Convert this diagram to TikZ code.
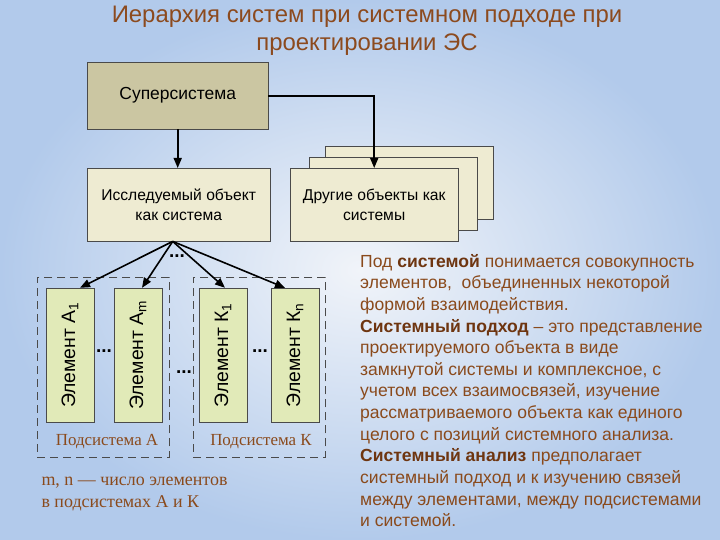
\documentclass[tikz,border=0pt]{standalone}
\usepackage{fontspec}
\setmainfont{Liberation Sans}
\newfontfamily\serifcyr{Liberation Serif}
\usepackage{xcolor}
\definecolor{cBg}{HTML}{B2CAEB}
\definecolor{cBgLight}{HTML}{F1F4F9}
\definecolor{cTitle}{HTML}{8C4A1E}
\definecolor{cText}{HTML}{8A4A1C}
\definecolor{cBold}{HTML}{6E3510}
\definecolor{cEdge}{HTML}{4A4A4A}
\definecolor{cSuper}{HTML}{CBC6A2}
\definecolor{cObj}{HTML}{EEEBD2}
\definecolor{cElem}{HTML}{E1EAB8}
\usetikzlibrary{arrows.meta,calc}
\tikzset{
  node-super/.style={draw=cEdge,fill=cSuper,anchor=north west,
    minimum width=181bp,minimum height=67bp,
    font=\fontsize{17.5}{20}\selectfont},
  node-box/.style={draw=cEdge,fill=cObj,anchor=north west,
    minimum width=168bp,minimum height=73bp,align=center,
    font=\fontsize{15.7}{20.5}\selectfont},
  node-elem/.style={draw=cEdge,fill=cElem,rotate=90,
    minimum width=134bp,minimum height=48bp,
    font=\fontsize{19.5}{20}\selectfont},
  sub-box/.style={draw=cEdge,thick,dash pattern=on 8bp off 5bp,
    anchor=north west,minimum width=132bp,minimum height=180bp},
  sub-label/.style={text=cText,font=\serifcyr\fontsize{17}{22}\selectfont},
  dots/.style={font=\bfseries\fontsize{19}{19}\selectfont},
  arrow/.style={-{Triangle[length=10bp,width=8bp]},line width=1.6bp},
}
\newcommand{\termbf}[1]{{\color{cBold}\bfseries #1}}

\begin{document}
\begin{tikzpicture}[x=1bp,y=-1bp]
  % background
  \useasboundingbox (0,0) rectangle (720,540);
  \shade[inner color=cBgLight,outer color=cBg] (0,0) rectangle (720,540);

  \node[text=cTitle,align=center,font=\fontsize{24}{28}\selectfont] (title) at (367,31)
    {Иерархия систем при системном подходе при\\проектировании ЭС};

  % upper level
  \node[node-super] (super) at (87,62) {Суперсистема};
  \node[node-box,minimum width=183bp] (obj) at (87,168) {Исследуемый объект\\как система};
  \node[node-box] (other3) at (325,146) {};
  \node[node-box] (other2) at (309,157) {};
  \node[node-box] (other1) at (290,168) {Другие объекты как\\системы};

  \draw[arrow] (super.south) -- (super.south |- obj.north);
  \draw[arrow] (super.east |- 0,96) -| (other1.north);

  % subsystems
  \node[sub-box] (subA) at (37,277) {};
  \node[sub-box] (subK) at (193,277) {};
  \node[sub-label] at (107,442) {Подсистема А};
  \node[sub-label] at (261,442) {Подсистема К};

  \node[node-elem] (a1) at (70,355) {Элемент А\textsubscript{1}};
  \node[node-elem] (am) at (138,355) {Элемент А\textsubscript{m}};
  \node[node-elem] (k1) at (223,355) {Элемент К\textsubscript{1}};
  \node[node-elem] (kn) at (295,355) {Элемент К\textsubscript{n}};

  \node[dots] at (104,351) {...};
  \node[dots] at (260,351) {...};
  \node[dots] at (184,372) {...};
  \node[dots] at (177,256) {...};

  \draw[arrow] ([xshift=-6bp]obj.south) -- ([xshift=10bp]a1.east);
  \draw[arrow] ([xshift=-6bp]obj.south) -- ([xshift=4bp]am.east);
  \draw[arrow] ([xshift=-6bp]obj.south) -- ([xshift=2bp]k1.east);
  \draw[arrow] ([xshift=-6bp]obj.south) -- ([xshift=-10bp]kn.east);

  \node[sub-label,anchor=north west,align=left,
    font=\serifcyr\fontsize{18}{22}\selectfont] (note) at (38,474)
    {m, n — число элементов\\в подсистемах А и К};

  % definitions
  \node[anchor=north west,align=left,inner sep=0pt,text=cText,
    font=\fontsize{17.6}{21.7}\selectfont] (defs) at (360,254)
    {Под \termbf{системой} понимается совокупность\\
     элементов,~ объединенных некоторой\\
     формой взаимодействия.\\
     \termbf{Системный подход} – это представление\\
     проектируемого объекта в виде\\
     замкнутой системы и комплексное, с\\
     учетом всех взаимосвязей, изучение\\
     рассматриваемого объекта как единого\\
     целого с позиций системного анализа.\\
     \termbf{Системный анализ} предполагает\\
     системный подход и к изучению связей\\
     между элементами, между подсистемами\\
     и системой.};
\end{tikzpicture}
\end{document}
